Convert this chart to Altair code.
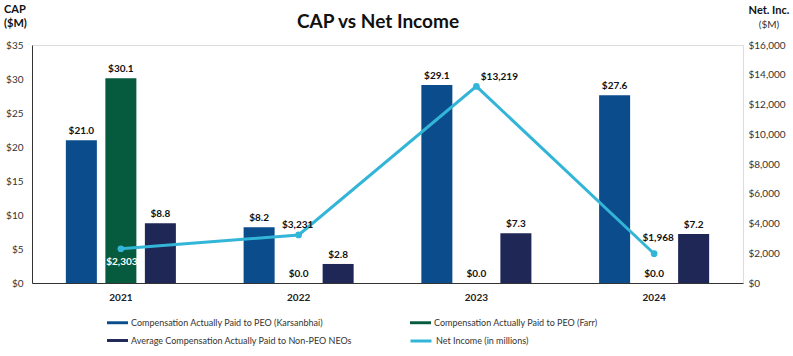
import altair as alt
import pandas as pd

years = ["2021", "2022", "2023", "2024"]
bar_series = [
    "Compensation Actually Paid to PEO (Karsanbhai)",
    "Compensation Actually Paid to PEO (Farr)",
    "Average Compensation Actually Paid to Non-PEO NEOs",
]
line_series = "Net Income (in millions)"
cap_karsanbhai = [21.0, 8.2, 29.1, 27.6]
cap_farr = [30.1, 0.0, 0.0, 0.0]
cap_neo = [8.8, 2.8, 7.3, 7.2]
net_income = [2303, 3231, 13219, 1968]
bar_colors = ["#0B4C8C", "#065A3E", "#1E2756"]
line_color = "#33B5D8"

FONT = "Lato"

rows = []
for s, vals in zip(bar_series, [cap_karsanbhai, cap_farr, cap_neo]):
    for y, v in zip(years, vals):
        rows.append({"year": y, "series": s, "value": v})
bars_df = pd.DataFrame(rows)
line_df = pd.DataFrame({"year": years, "series": line_series, "ni": net_income})

# legend order (grid filled column by column)
legend_order = [bar_series[0], bar_series[2], bar_series[1]]
color_scale = alt.Scale(domain=legend_order,
                        range=[bar_colors[0], bar_colors[2], bar_colors[1]])

x_enc = alt.X("year:N", sort=years, scale=alt.Scale(paddingInner=0, paddingOuter=0),
              axis=alt.Axis(title=None, labelAngle=0, ticks=False, domainColor="#333333",
                            labelFont=FONT, labelFontWeight="bold", labelFontSize=10,
                            labelColor="#222222", labelPadding=9))
y_left = alt.Y("value:Q", scale=alt.Scale(domain=[0, 35], nice=False),
               axis=alt.Axis(title=None, values=[0, 5, 10, 15, 20, 25, 30, 35],
                             labelExpr="'$' + datum.value", grid=False, ticks=False,
                             domainColor="#333333", labelFont=FONT, labelFontSize=10,
                             labelColor="#333333", labelPadding=9))
xoff = alt.XOffset("series:N", sort=bar_series,
                   scale=alt.Scale(paddingInner=0.215, paddingOuter=0.857))

LEG_X = 75
LEG_Y = 267
legend = alt.Legend(
    title=None, orient="none", legendX=LEG_X, legendY=LEG_Y, columns=2, columnPadding=57,
    rowPadding=2, labelFont=FONT, labelFontSize=9, labelColor="#333333",
    symbolType="M-1,-0.14H1V0.14H-1Z", symbolSize=441, symbolStrokeWidth=0, labelOffset=3,
    labelLimit=400,
)

bars = alt.Chart(bars_df).mark_bar().encode(
    x=x_enc, xOffset=xoff, y=y_left,
    color=alt.Color("series:N", scale=color_scale, legend=legend),
)
bar_text = alt.Chart(bars_df).mark_text(
    baseline="bottom", dy=-4, font=FONT, fontWeight="bold", fontSize=10, color="#111111"
).encode(x=x_enc, xOffset=xoff, y=y_left, text=alt.Text("value:Q", format="$.1f"))

y_right_scale = alt.Scale(domain=[0, 16000], nice=False)
y_right_axis = alt.Axis(title=None, orient="right", values=list(range(0, 16001, 2000)),
                        format="$,.0f", grid=False, ticks=False, domain=False,
                        labelFont=FONT, labelFontSize=10, labelColor="#333333",
                        labelPadding=5)
y_right = alt.Y("ni:Q", scale=y_right_scale, axis=y_right_axis)

line_legend = alt.Legend(
    title=None, orient="none", legendX=LEG_X + 302, legendY=LEG_Y + 17,
    labelFont=FONT, labelFontSize=9, labelColor="#333333", symbolType="stroke",
    symbolSize=441, symbolStrokeWidth=3, labelOffset=3, labelLimit=400,
)
line = alt.Chart(line_df).mark_line(strokeWidth=3).encode(
    x=alt.X("year:N", sort=years), y=y_right,
    stroke=alt.Stroke("series:N", scale=alt.Scale(domain=[line_series], range=[line_color]),
                      legend=line_legend),
)
points = alt.Chart(line_df).mark_point(size=45, filled=True, opacity=1, color=line_color).encode(
    x=alt.X("year:N", sort=years), y=y_right,
)

def ni_label(year, dx, dy, col):
    return alt.Chart(line_df).transform_filter(alt.datum.year == year).mark_text(
        dx=dx, dy=dy, font=FONT, fontWeight="bold", fontSize=10, color=col, baseline="middle"
    ).encode(x=alt.X("year:N", sort=years), y=y_right,
             text=alt.Text("ni:Q", format="$,.0f"))

ni_labels = [
    ni_label("2021", 1, 13, "#FFFFFF"),
    ni_label("2022", -1, -10, "#111111"),
    ni_label("2023", 23, -9, "#111111"),
    ni_label("2024", 4, -16, "#111111"),
]

corner_df = pd.DataFrame({"t": ["CAP vs Net Income", "CAP", "($M)", "Net. Inc.", "($M) "]})
def corner(t, x, y, weight, align, size=11, col="#111111"):
    return alt.Chart(corner_df).transform_filter(alt.datum.t == t).mark_text(
        font=FONT, fontSize=size, fontWeight=weight, align=align, baseline="middle", color=col
    ).encode(x=alt.value(x), y=alt.value(y), text="t:N")

corners = [
    corner("CAP vs Net Income", 346, -23, "bold", "center", size=19),
    corner("CAP", -28, -35, "bold", "left"),
    corner("($M)", -28, -21, "bold", "left"),
    corner("Net. Inc.", 737, -34, "bold", "center"),
    corner("($M) ", 737, -20, "normal", "center", size=10, col="#333333"),
]

left_layer = alt.layer(bars, bar_text)
right_layer = alt.layer(line, points, *ni_labels)

chart = alt.layer(left_layer, right_layer, *corners).resolve_scale(y="independent").properties(
    width=711, height=238,
    autosize=alt.AutoSizeParams(type="none"),
    padding={"left": 32, "top": 45, "right": 50, "bottom": 73},
).configure_view(stroke=None).configure(background="white")

chart.save("out.html", embed_options={"renderer": "svg", "actions": False})
